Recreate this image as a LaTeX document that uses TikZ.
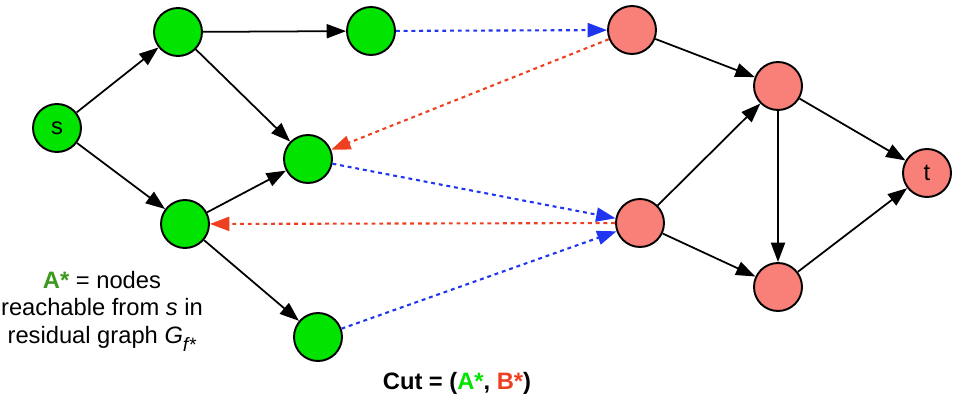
\documentclass[tikz,border=0pt]{standalone}
\usepackage{fontspec}
\setmainfont{Liberation Sans}
\definecolor{agreen}{HTML}{00E400}
\definecolor{textgreen}{HTML}{3A9A1E}
\definecolor{bpink}{HTML}{F98078}
\definecolor{cutblue}{HTML}{1F35F0}
\definecolor{cutred}{HTML}{EE4020}
\usetikzlibrary{arrows.meta}
\tikzset{
  vtx/.style={
    circle, draw=black, fill=#1, line width=1.1pt,
    minimum size=0.96cm, inner sep=0pt,
    font=\fontsize{13.5}{15}\selectfont
  },
  vtx/.default=agreen,
  arr/.style={-{Triangle[length=11pt,width=8pt]}, line width=1pt},
  carr/.style={-{Triangle[length=11pt,width=8pt]}, line width=1.2pt,
    color=#1, dash pattern=on 2.2pt off 2.2pt},
  carr/.default=cutblue,
  lbl/.style={font=\fontsize{13.5}{15.8}\selectfont, align=center},
}

\begin{document}
\begin{tikzpicture}[x=0.02cm, y=-0.02cm]
  \useasboundingbox (0,0) rectangle (970,408);
  % A* side
  \node[vtx] (s) at (57,128) {s};
  \node[vtx] (a1) at (178,32) {};
  \node[vtx] (a2) at (371,31) {};
  \node[vtx] (a3) at (308,159) {};
  \node[vtx] (a4) at (185,224) {};
  \node[vtx] (a5) at (318,337) {};

  % B* side
  \node[vtx=bpink] (b1) at (632,30) {};
  \node[vtx=bpink] (b2) at (778,86) {};
  \node[vtx=bpink] (b3) at (640,223) {};
  \node[vtx=bpink] (b4) at (778,287) {};
  \node[vtx=bpink] (t) at (927,173) {t};

  \draw[arr] (s) -- (a1);
  \draw[arr] (s) -- (a4);
  \draw[arr] (a1) -- (a2);
  \draw[arr] (a1) -- (a3);
  \draw[arr] (a4) -- (a3);
  \draw[arr] (a4) -- (a5);
  \draw[arr] (b1) -- (b2);
  \draw[arr] (b3) -- (b2);
  \draw[arr] (b3) -- (b4);
  \draw[arr] (b2) -- (b4);
  \draw[arr] (b2) -- (t);
  \draw[arr] (b4) -- (t);

  % edges across the cut
  \draw[carr] (a2) -- (b1);
  \draw[carr=cutred] (b1) -- (a3);
  \draw[carr] (a3) -- (b3);
  \draw[carr=cutred] (b3) -- (a4);
  \draw[carr] (a5) -- (b3);

  \node[lbl] (note) at (102,311)
    {\textcolor{textgreen}{\textbf{A*}} = nodes\\
     reachable from \textit{s} in\\
     residual graph \textit{G}\raisebox{-0.6ex}{\fontsize{11}{12}\selectfont\textit{f*}}};
  \node[lbl] (cut) at (457,383)
    {\textbf{Cut = (\textcolor{agreen}{A*}, \textcolor{cutred}{B*})}};
\end{tikzpicture}
\end{document}
